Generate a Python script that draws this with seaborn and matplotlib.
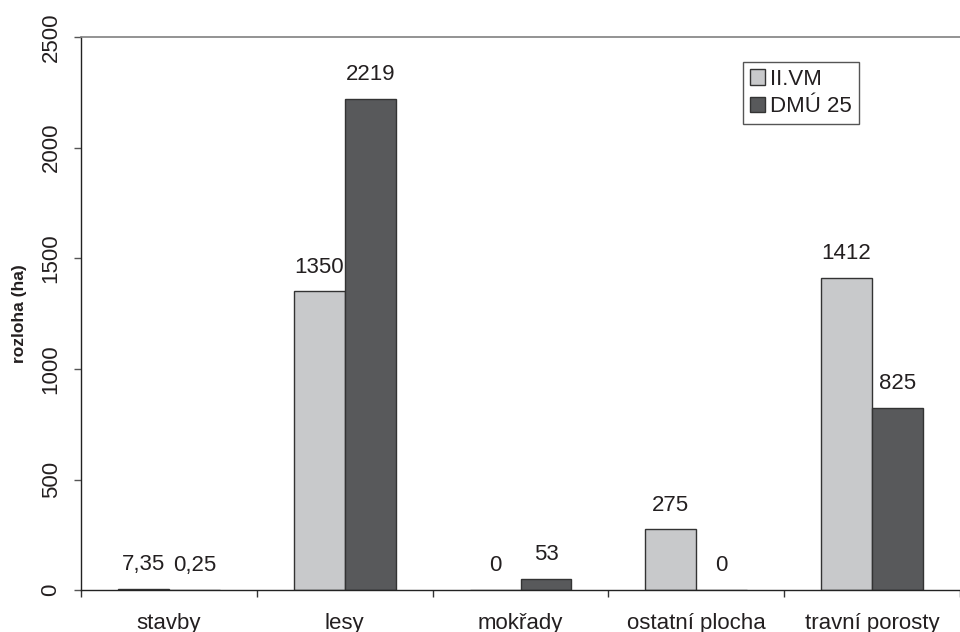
import numpy as np
import pandas as pd
import matplotlib
matplotlib.use("Agg")
import matplotlib.pyplot as plt
import seaborn as sns

# kategorie a hodnoty (ha)
categories = ["stavby", "lesy", "mokřady", "ostatní plocha", "travní porosty"]
series_names = ["II.VM", "DMÚ 25"]
vm_values = [7.35, 1350, 0, 275, 1412]
dmu_values = [0.25, 2219, 53, 0, 825]
y_ticks = [0, 500, 1000, 1500, 2000, 2500]

LIGHT = "#c8c9cb"
DARK = "#58595b"
TEXT = "#231f20"


def fmt(v):
    return f"{v:g}".replace(".", ",")


df = pd.DataFrame({
    "kategorie": categories * 2,
    "serie": [series_names[0]] * len(categories) + [series_names[1]] * len(categories),
    "rozloha": vm_values + dmu_values,
})

sns.set_style("white")
plt.rcParams["font.family"] = ["Liberation Sans", "DejaVu Sans"]
plt.rcParams["text.color"] = TEXT

fig = plt.figure(figsize=(9.6, 6.32), dpi=100)
ax = fig.add_axes([0.0844, 0.066, 0.9156, 0.8755])

sns.barplot(data=df, x="kategorie", y="rozloha", hue="serie", order=categories,
            hue_order=series_names, palette=[LIGHT, DARK], width=0.58,
            edgecolor="#333333", linewidth=1.0, saturation=1, ax=ax)

# popisky nad sloupci
for cont, vals in zip(ax.containers, [vm_values, dmu_values]):
    ax.bar_label(cont, labels=[fmt(v) for v in vals], padding=10,
                 fontsize=16, color=TEXT)

ax.set_xlim(-0.5, len(categories) - 0.5)
ax.set_ylim(0, 2500)
ax.set_yticks(y_ticks)
ax.set_yticklabels([str(t) for t in y_ticks], rotation=90, va="center",
                   fontsize=16, color=TEXT)
ax.tick_params(axis="y", direction="out", length=5, width=1, color="#555555",
               pad=9, left=True)

# ticky na hranicích kategorií, popisky uprostřed
ax.set_xticks(np.arange(-0.5, len(categories)), labels=[""] * (len(categories) + 1))
ax.set_xticks(np.arange(len(categories)), labels=categories, minor=True)
ax.tick_params(axis="x", which="major", direction="out", length=5, width=1,
               color="#333333", bottom=True)
ax.tick_params(axis="x", which="minor", length=0, pad=16, labelsize=16,
               labelcolor=TEXT)

ax.set_xlabel("")
ax.set_ylabel("rozloha (ha)", fontsize=12.5, fontweight="bold", color=TEXT)
ax.yaxis.set_label_coords(-0.062, 0.5)

for side in ["left", "bottom"]:
    ax.spines[side].set_color("#222222")
    ax.spines[side].set_linewidth(1.0)
ax.spines["top"].set_color("#808080")
ax.spines["top"].set_linewidth(1.2)
ax.spines["right"].set_visible(False)

handles, labels = ax.get_legend_handles_labels()
leg = ax.legend(handles, labels, loc="upper left",
                bbox_to_anchor=(743 / 960, 1 - 62 / 632),
                bbox_transform=fig.transFigure, borderaxespad=0,
                fontsize=16, frameon=True, fancybox=False, framealpha=1,
                edgecolor="#555555", handlelength=0.68, handleheight=0.68,
                handletextpad=0.25, labelspacing=0.3, borderpad=0.3)
leg.get_frame().set_linewidth(1.0)

fig.savefig("out.png", dpi=100)
